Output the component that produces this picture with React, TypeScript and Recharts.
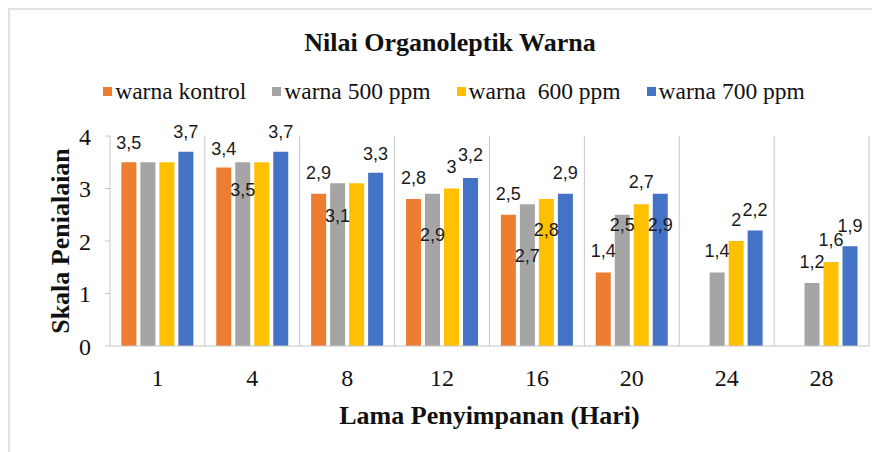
import { BarChart, Bar, XAxis, YAxis, CartesianGrid, LabelList } from 'recharts';

const categories = ['1', '4', '8', '12', '16', '20', '24', '28'];
const kontrol = [3.5, 3.4, 2.9, 2.8, 2.5, 1.4, null, null];
const ppm500 = [3.5, 3.5, 3.1, 2.9, 2.7, 2.5, 1.4, 1.2];
const ppm600 = [3.5, 3.5, 3.1, 3, 2.8, 2.7, 2, 1.6];
const ppm700 = [3.7, 3.7, 3.3, 3.2, 2.9, 2.9, 2.2, 1.9];
const yTicks = [0, 1, 2, 3, 4];

// where each value label sits relative to its bar top (null = not shown), as in the source
const kontrolLabelDy = [-19, -19, -21, -21, -21, -22, null, null];
const ppm500LabelDy = [null, 28, 33, 41, 52, 10, -22, -21];
const ppm600LabelDy = [null, null, null, -22, 31, -22, -21, -22];
const ppm700LabelDy = [-20, -20, -19, -23, -21, 31, -21, -20];

const SERIES = [
  { key: 'kontrol', name: 'warna kontrol', color: '#ED7D31', dy: kontrolLabelDy },
  { key: 'p500', name: 'warna 500 ppm', color: '#A5A5A5', dy: ppm500LabelDy },
  { key: 'p600', name: 'warna  600 ppm', color: '#FFC000', dy: ppm600LabelDy },
  { key: 'p700', name: 'warna 700 ppm', color: '#4472C4', dy: ppm700LabelDy },
];

const data = categories.map((day, i) => ({
  day,
  kontrol: kontrol[i],
  p500: ppm500[i],
  p600: ppm600[i],
  p700: ppm700[i],
}));

const SERIF = '"Liberation Serif", "Times New Roman", serif';
const GRID = '#c6c6c6';

const fmt = (v: number) => String(v).replace('.', ',');

function makeLabel(offsets: (number | null)[]) {
  return (props: any) => {
    const { value, index } = props;
    const dy = offsets[index];
    if (dy == null || value == null) return null;
    const vb = props.viewBox || props;
    return (
      <text
        x={vb.x + vb.width / 2}
        y={vb.y + dy}
        textAnchor="middle"
        dominantBaseline="central"
        fontFamily='"Liberation Sans", Arial, sans-serif'
        fontSize={18}
        fill="#1a1a1a"
      >
        {fmt(value)}
      </text>
    );
  };
}

export default function App() {
  return (
    <div style={{ position: 'relative', width: 872, height: 444, background: '#fff' }}>
      <div
        style={{
          position: 'absolute',
          inset: 0,
          borderTop: '2px solid #e2e2e2',
          borderLeft: '2px solid #e2e2e2',
          boxSizing: 'border-box',
          pointerEvents: 'none',
        }}
      />
      <div
        style={{
          position: 'absolute',
          top: 22,
          left: 0,
          width: 884,
          textAlign: 'center',
          fontFamily: SERIF,
          fontWeight: 'bold',
          fontSize: 26,
          lineHeight: '26px',
          color: '#111',
        }}
      >
        Nilai Organoleptik Warna
      </div>
      <div
        style={{
          position: 'absolute',
          top: 71,
          left: 0,
          width: 872,
          paddingLeft: 20,
          boxSizing: 'border-box',
          display: 'flex',
          justifyContent: 'center',
          gap: 26,
          fontFamily: SERIF,
          fontSize: 23.5,
          lineHeight: '24px',
          color: '#111',
        }}
      >
        {SERIES.map((s) => (
          <div key={s.key} style={{ display: 'flex', alignItems: 'center', gap: 3 }}>
            <div style={{ width: 9, height: 9, background: s.color }} />
            <span style={{ whiteSpace: 'pre' }}>{s.name}</span>
          </div>
        ))}
      </div>
      <div style={{ position: 'absolute', left: 0, top: 0 }}>
        <BarChart
          width={872}
          height={444}
          data={data}
          margin={{ top: 128, right: 11, bottom: 0, left: 42 }}
          barCategoryGap="12%"
          barGap={4}
        >
          <CartesianGrid
            horizontal={false}
            stroke={GRID}
            verticalCoordinatesGenerator={({ offset }: any) =>
              categories.map((_, i) => offset.left + ((i + 1) * offset.width) / categories.length)
            }
          />
          <XAxis
            dataKey="day"
            height={106}
            stroke={GRID}
            tickLine={false}
            tickSize={0}
            tickMargin={23}
            tick={{ fill: '#111', fontFamily: SERIF, fontSize: 24 }}
            label={{
              content: (p: any) => (
                <text
                  x={p.viewBox.x + p.viewBox.width / 2}
                  y={416}
                  textAnchor="middle"
                  fontFamily={SERIF}
                  fontWeight="bold"
                  fontSize={26}
                  fill="#111"
                >
                  Lama Penyimpanan (Hari)
                </text>
              ),
            }}
          />
          <YAxis
            width={60}
            domain={[0, 4]}
            ticks={yTicks}
            stroke={GRID}
            tickSize={5}
            tickMargin={14}
            tick={{ fill: '#111', fontFamily: SERIF, fontSize: 24 }}
            label={{
              content: (p: any) => {
                const cy = p.viewBox.y + p.viewBox.height / 2;
                return (
                  <text
                    x={52}
                    y={cy}
                    transform={`rotate(-90 52 ${cy})`}
                    textAnchor="middle"
                    dominantBaseline="central"
                    fontFamily={SERIF}
                    fontWeight="bold"
                    fontSize={26}
                    fill="#111"
                  >
                    Skala Penialaian
                  </text>
                );
              },
            }}
          />
          {SERIES.map((s) => (
            <Bar key={s.key} dataKey={s.key} name={s.name} fill={s.color} isAnimationActive={false}>
              <LabelList dataKey={s.key} content={makeLabel(s.dy)} />
            </Bar>
          ))}
        </BarChart>
      </div>
    </div>
  );
}
